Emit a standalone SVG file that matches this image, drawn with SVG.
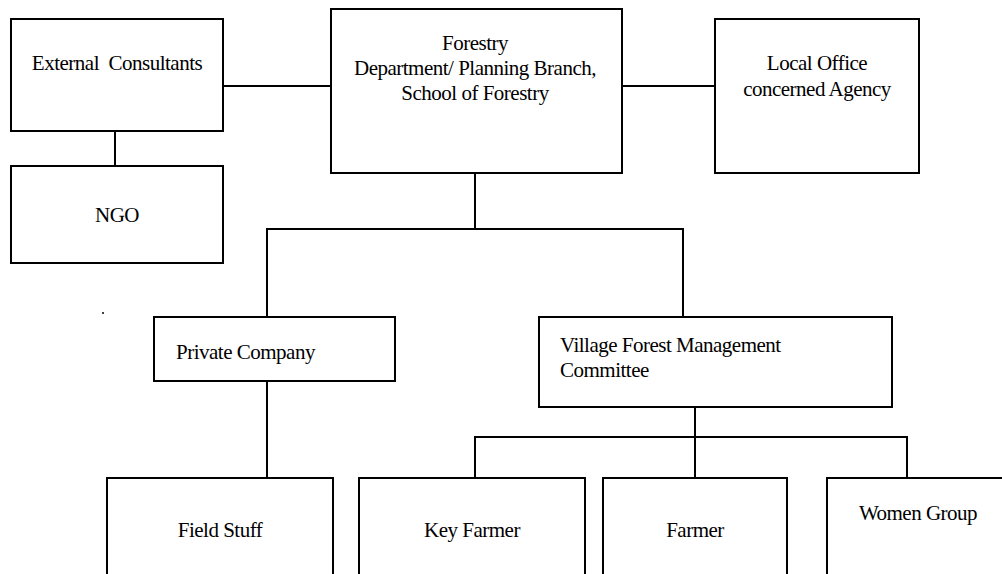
<svg xmlns="http://www.w3.org/2000/svg" width="1002" height="574" viewBox="0 0 1002 574">
  <style>
    .box { fill: #fff; stroke: #000; stroke-width: 2; }
    .wire { fill: none; stroke: #000; stroke-width: 2; }
    .lbl { font-family: "Liberation Serif", "Times New Roman", serif; font-size: 21px; fill: #000; letter-spacing: -0.5px; }
    .mid { text-anchor: middle; }
  </style>
  <rect width="1002" height="574" fill="#fff"/>

  <!-- connecting lines -->
  <g id="connectors">
    <line class="wire" x1="223" y1="86" x2="331" y2="86"/>
    <line class="wire" x1="622" y1="86" x2="715" y2="86"/>
    <line class="wire" x1="115" y1="131" x2="115" y2="166"/>
    <line class="wire" x1="475" y1="173" x2="475" y2="229"/>
    <line class="wire" x1="266" y1="229" x2="684" y2="229"/>
    <line class="wire" x1="267" y1="229" x2="267" y2="317"/>
    <line class="wire" x1="683" y1="229" x2="683" y2="317"/>
    <line class="wire" x1="267" y1="381" x2="267" y2="478"/>
    <line class="wire" x1="695" y1="407" x2="695" y2="478"/>
    <line class="wire" x1="474" y1="437" x2="908" y2="437"/>
    <line class="wire" x1="475" y1="437" x2="475" y2="478"/>
    <line class="wire" x1="907" y1="437" x2="907" y2="478"/>
  </g>

  <g id="external-consultants">
    <rect class="box" x="11" y="19" width="212" height="112"/>
    <text class="lbl mid" x="117" y="70" xml:space="preserve">External  Consultants</text>
  </g>

  <g id="ngo">
    <rect class="box" x="11" y="166" width="212" height="97"/>
    <text class="lbl mid" x="117" y="222">NGO</text>
  </g>

  <g id="forestry-department">
    <rect class="box" x="331" y="9" width="291" height="164"/>
    <text class="lbl mid" x="475" y="50">Forestry</text>
    <text class="lbl mid" x="475" y="75">Department/ Planning Branch,</text>
    <text class="lbl mid" x="475" y="100">School of Forestry</text>
  </g>

  <g id="local-office">
    <rect class="box" x="715" y="19" width="204" height="154"/>
    <text class="lbl mid" x="817" y="70">Local Office</text>
    <text class="lbl mid" x="817" y="96">concerned Agency</text>
  </g>

  <!-- stray full stop left of the company box -->
  <circle cx="103" cy="313" r="1" fill="#000"/>

  <g id="private-company">
    <rect class="box" x="154" y="317" width="241" height="64"/>
    <text class="lbl" x="176" y="359">Private Company</text>
  </g>

  <g id="village-committee">
    <rect class="box" x="539" y="317" width="353" height="90"/>
    <text class="lbl" x="560" y="352">Village Forest Management</text>
    <text class="lbl" x="560" y="377">Committee</text>
  </g>

  <g id="field-stuff">
    <rect class="box" x="107" y="478" width="226" height="120"/>
    <text class="lbl mid" x="220" y="537">Field Stuff</text>
  </g>

  <g id="key-farmer">
    <rect class="box" x="359" y="478" width="226" height="120"/>
    <text class="lbl mid" x="472" y="537">Key Farmer</text>
  </g>

  <g id="farmer">
    <rect class="box" x="603" y="478" width="184" height="120"/>
    <text class="lbl mid" x="695" y="537">Farmer</text>
  </g>

  <g id="women-group">
    <rect class="box" x="827" y="478" width="200" height="120"/>
    <text class="lbl mid" x="918" y="520">Women Group</text>
  </g>
</svg>
